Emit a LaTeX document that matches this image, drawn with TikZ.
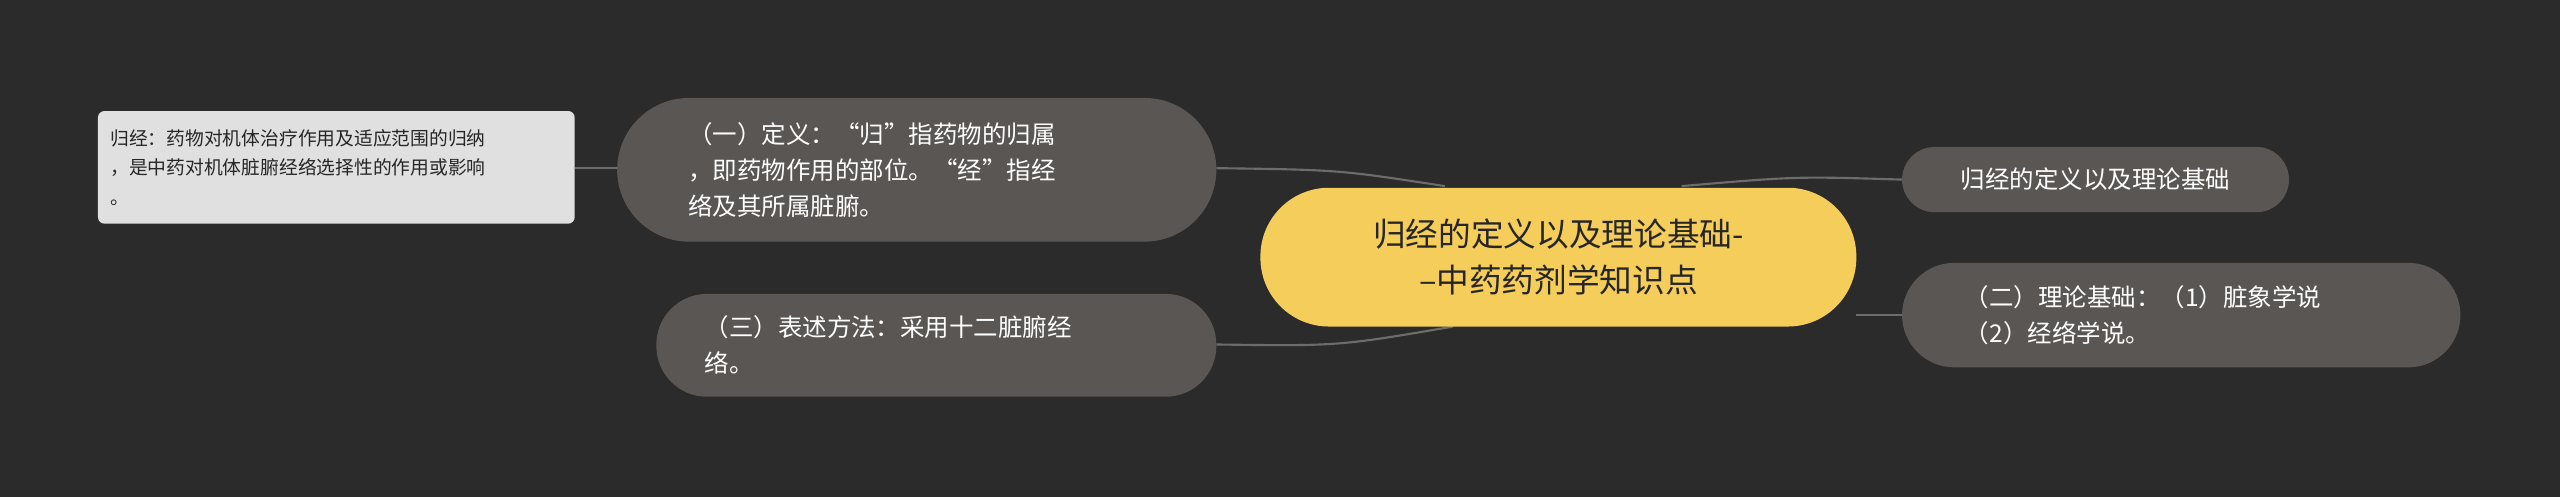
\documentclass[tikz,border=0pt]{standalone}
\usepackage{fontspec}
\setmainfont{Noto Sans CJK SC}
\begin{document}
\begin{tikzpicture}[x=1pt,y=-1pt,
  box/.style={fill=nodegray,text=white,rounded corners=30pt,font=\fontsize{15}{22}\selectfont,align=left,inner sep=0pt},
  con/.style={draw=linegray,line width=1.3pt}]
\definecolor{bg}{HTML}{2B2B2B}
\definecolor{nodegray}{HTML}{5A5654}
\definecolor{linegray}{HTML}{6E6C6A}
\definecolor{yel}{HTML}{F5CD5B}
\fill[bg] (0,0) rectangle (1568,304.4);
\useasboundingbox (0,0) rectangle (1568,304.4);
% connectors
\coordinate (cl1) at (885,114);
\coordinate (cl2) at (890,200);
\coordinate (cr1) at (1030,114);
\coordinate (cr2) at (1137,193);
\draw[con] (cl1) .. controls (820,104) .. (745,103);
\draw[con] (cl2) .. controls (820,212) .. (745,211);
\draw[con] (cr1) .. controls (1100,108) .. (1165,110);
\draw[con] (cr2) -- (1165,193);
\draw[con] (378,103) -- (352,103);
% nodes
\fill[yel,rounded corners=42pt] (772,115) rectangle (1137,200);
\node[font=\fontsize{20}{28}\selectfont,text=black!85,align=center] (c) at (954.5,157.5) {归经的定义以及理论基础-\\--中药药剂学知识点};
\fill[nodegray,rounded corners=20pt] (1165,90) rectangle (1402,130);
\node[text=white,font=\fontsize{15}{22}\selectfont] (r1) at (1283.5,110) {归经的定义以及理论基础};
\fill[nodegray,rounded corners=32pt] (1165,161) rectangle (1507,225);
\node[text=white,font=\fontsize{15}{22}\selectfont,align=left,anchor=west] (r2) at (1200,193) {（二）理论基础：（1）脏象学说\\（2）经络学说。};
\fill[nodegray,rounded corners=44pt] (378,60) rectangle (745,148);
\node[text=white,font=\fontsize{15}{22}\selectfont,align=left,anchor=west] (l1) at (418,104) {（一）定义：“归”指药物的归属\\，即药物作用的部位。“经”指经\\络及其所属脏腑。};
\fill[nodegray,rounded corners=31pt] (402,180) rectangle (745,243);
\node[text=white,font=\fontsize{15}{22}\selectfont,align=left,anchor=west] (l2) at (428,211.5) {（三）表述方法：采用十二脏腑经\\络。};
\fill[black!12,rounded corners=4pt] (60,68) rectangle (352,137);
\node[text=black!85,font=\fontsize{11.5}{18}\selectfont,align=left,anchor=west] (f) at (64,102.5) {归经：药物对机体治疗作用及适应范围的归纳\\，是中药对机体脏腑经络选择性的作用或影响\\。};
\end{tikzpicture}
\end{document}
